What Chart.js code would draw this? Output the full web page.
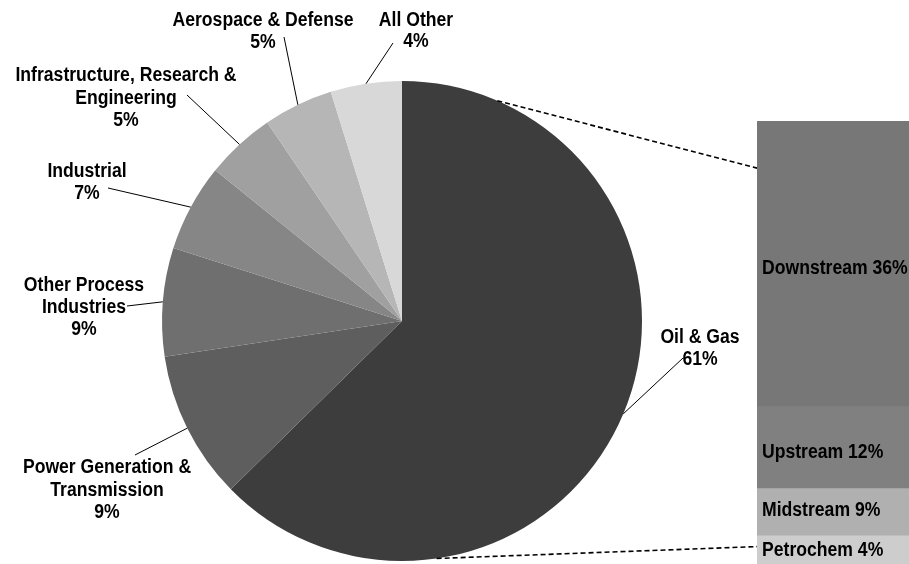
<!DOCTYPE html>
<html>
<head>
<meta charset="utf-8">
<script src="https://cdn.jsdelivr.net/npm/chart.js@4/dist/chart.umd.min.js"></script>
<style>
  html, body { margin: 0; padding: 0; background: #ffffff; }
  #wrap { position: relative; width: 909px; height: 564px; overflow: hidden; }
  #wrap canvas { position: absolute; left: 0; top: 0; }
</style>
</head>
<body>
<div id="wrap">
  <canvas id="pie" width="909" height="564"></canvas>
  <canvas id="bar" width="909" height="564"></canvas>
</div>
<script>
// ---- Data ----
const sectors = ['Oil & Gas', 'Power Generation & Transmission', 'Other Process Industries', 'Industrial', 'Infrastructure, Research & Engineering', 'Aerospace & Defense', 'All Other'];
const sectorShares = [62.7, 10.0, 7.3, 5.9, 4.7, 4.7, 4.8];          // drawn slice sizes
const sectorLabels = ['61%', '9%', '9%', '7%', '5%', '5%', '4%'];       // printed percentages
const sectorColors = ['#3d3d3d', '#5e5e5e', '#6f6f6f', '#868686', '#a0a0a0', '#b6b6b6', '#d8d8d8'];

const segments = ['Petrochem', 'Midstream', 'Upstream', 'Downstream']; // bottom to top
const segmentShares = [3.9, 6.5, 11.3, 39.4];
const segmentLabels = ['4%', '9%', '12%', '36%'];
const segmentColors = ['#cdcdcd', '#b0b0b0', '#808080', '#777777'];

// ---- Text helpers ----
const FONT = 'bold 20px "Liberation Sans", Arial, sans-serif';
const SX = 0.88;
function drawText(ctx, text, x, y, align) {
  ctx.save();
  ctx.translate(x, y);
  ctx.scale(SX, 1);
  ctx.textAlign = align;
  ctx.textBaseline = 'middle';
  ctx.fillText(text, 0, 0);
  ctx.restore();
}

// label layout for each slice: lines of text, centre x, line centres y, leader end point
const pieLabelLayout = [
  { lines: ['Oil & Gas'], cx: 700, ys: [337, 359], end: [683, 358] },
  { lines: ['Power Generation &', 'Transmission'], cx: 107, ys: [467, 490, 512], end: [135, 455] },
  { lines: ['Other Process', 'Industries'], cx: 84, ys: [285, 307, 329], end: [127, 306] },
  { lines: ['Industrial'], cx: 87, ys: [171, 193], end: [108, 188] },
  { lines: ['Infrastructure, Research &', 'Engineering'], cx: 126, ys: [75, 98, 120], end: [187, 95] },
  { lines: ['Aerospace & Defense'], cx: 263, ys: [20, 42], end: [284, 37] },
  { lines: ['All Other'], cx: 416, ys: [20, 41], end: [393, 43] }
];
// vertical nudge of each bar label from its segment centre (bottom to top)
const barLabelNudge = [1, -2, 5, 5];

const pieLabelsPlugin = {
  id: 'pieLabels',
  afterDraw(chart) {
    const ctx = chart.ctx;
    const meta = chart.getDatasetMeta(0);
    ctx.save();
    ctx.strokeStyle = '#000';
    ctx.lineWidth = 1;
    ctx.fillStyle = '#000';
    ctx.font = FONT;
    meta.data.forEach((arc, i) => {
      const p = arc.getProps(['x', 'y', 'startAngle', 'endAngle', 'outerRadius'], true);
      const mid = (p.startAngle + p.endAngle) / 2;
      const sx = p.x + Math.cos(mid) * p.outerRadius;
      const sy = p.y + Math.sin(mid) * p.outerRadius;
      const L = pieLabelLayout[i];
      ctx.beginPath();
      ctx.moveTo(sx, sy);
      ctx.lineTo(L.end[0], L.end[1]);
      ctx.stroke();
      const lines = L.lines.concat([sectorLabels[i]]);
      lines.forEach((t, k) => drawText(ctx, t, L.cx, L.ys[k], 'center'));
    });
    ctx.restore();
  }
};

const pieChart = new Chart(document.getElementById('pie'), {
  type: 'pie',
  data: {
    labels: sectors,
    datasets: [{
      data: sectorShares,
      backgroundColor: sectorColors,
      borderWidth: 0
    }]
  },
  options: {
    responsive: false,
    animation: false,
    devicePixelRatio: 1,
    layout: { padding: { left: 162, right: 267, top: 81, bottom: 3 } },
    plugins: { legend: { display: false }, tooltip: { enabled: false } }
  },
  plugins: [pieLabelsPlugin]
});

// connector: pie angles (degrees clockwise from 12 o'clock) to bar y-values
const connectors = [
  { angle: 23.4, barValue: 54.6 },
  { angle: 171.7, barValue: 2.4 }
];

const barLabelsPlugin = {
  id: 'barLabels',
  afterDraw(chart) {
    const ctx = chart.ctx;
    ctx.save();
    ctx.fillStyle = '#000';
    ctx.font = FONT;
    chart.data.datasets.forEach((ds, i) => {
      const el = chart.getDatasetMeta(i).data[0];
      const left = chart.chartArea.left + 5;
      const yc = (el.y + el.base) / 2 + barLabelNudge[i];
      drawText(ctx, segments[i] + ' ' + segmentLabels[i], left, yc, 'left');
    });
    // dashed connectors
    const arc = pieChart.getDatasetMeta(0).data[0];
    const cx = arc.x, cy = arc.y, R = arc.outerRadius;
    const bx = chart.chartArea.left;
    ctx.strokeStyle = '#000';
    ctx.lineWidth = 1.6;
    ctx.setLineDash([5, 3]);
    connectors.forEach(c => {
      const a = c.angle * Math.PI / 180;
      ctx.beginPath();
      ctx.moveTo(cx + R * Math.sin(a), cy - R * Math.cos(a));
      ctx.lineTo(bx, chart.scales.y.getPixelForValue(c.barValue));
      ctx.stroke();
    });
    ctx.restore();
  }
};

const barTotal = segmentShares.reduce((a, b) => a + b, 0);

new Chart(document.getElementById('bar'), {
  type: 'bar',
  data: {
    labels: ['Oil & Gas'],
    datasets: segments.map((s, i) => ({
      label: s,
      data: [segmentShares[i]],
      backgroundColor: segmentColors[i],
      borderWidth: 0,
      barPercentage: 1,
      categoryPercentage: 1
    }))
  },
  options: {
    responsive: false,
    animation: false,
    devicePixelRatio: 1,
    layout: { padding: { left: 757, right: 0, top: 121, bottom: 0 } },
    scales: {
      x: { stacked: true, display: false },
      y: { stacked: true, display: false, min: 0, max: barTotal }
    },
    plugins: { legend: { display: false }, tooltip: { enabled: false } }
  },
  plugins: [barLabelsPlugin]
});
</script>
</body>
</html>
